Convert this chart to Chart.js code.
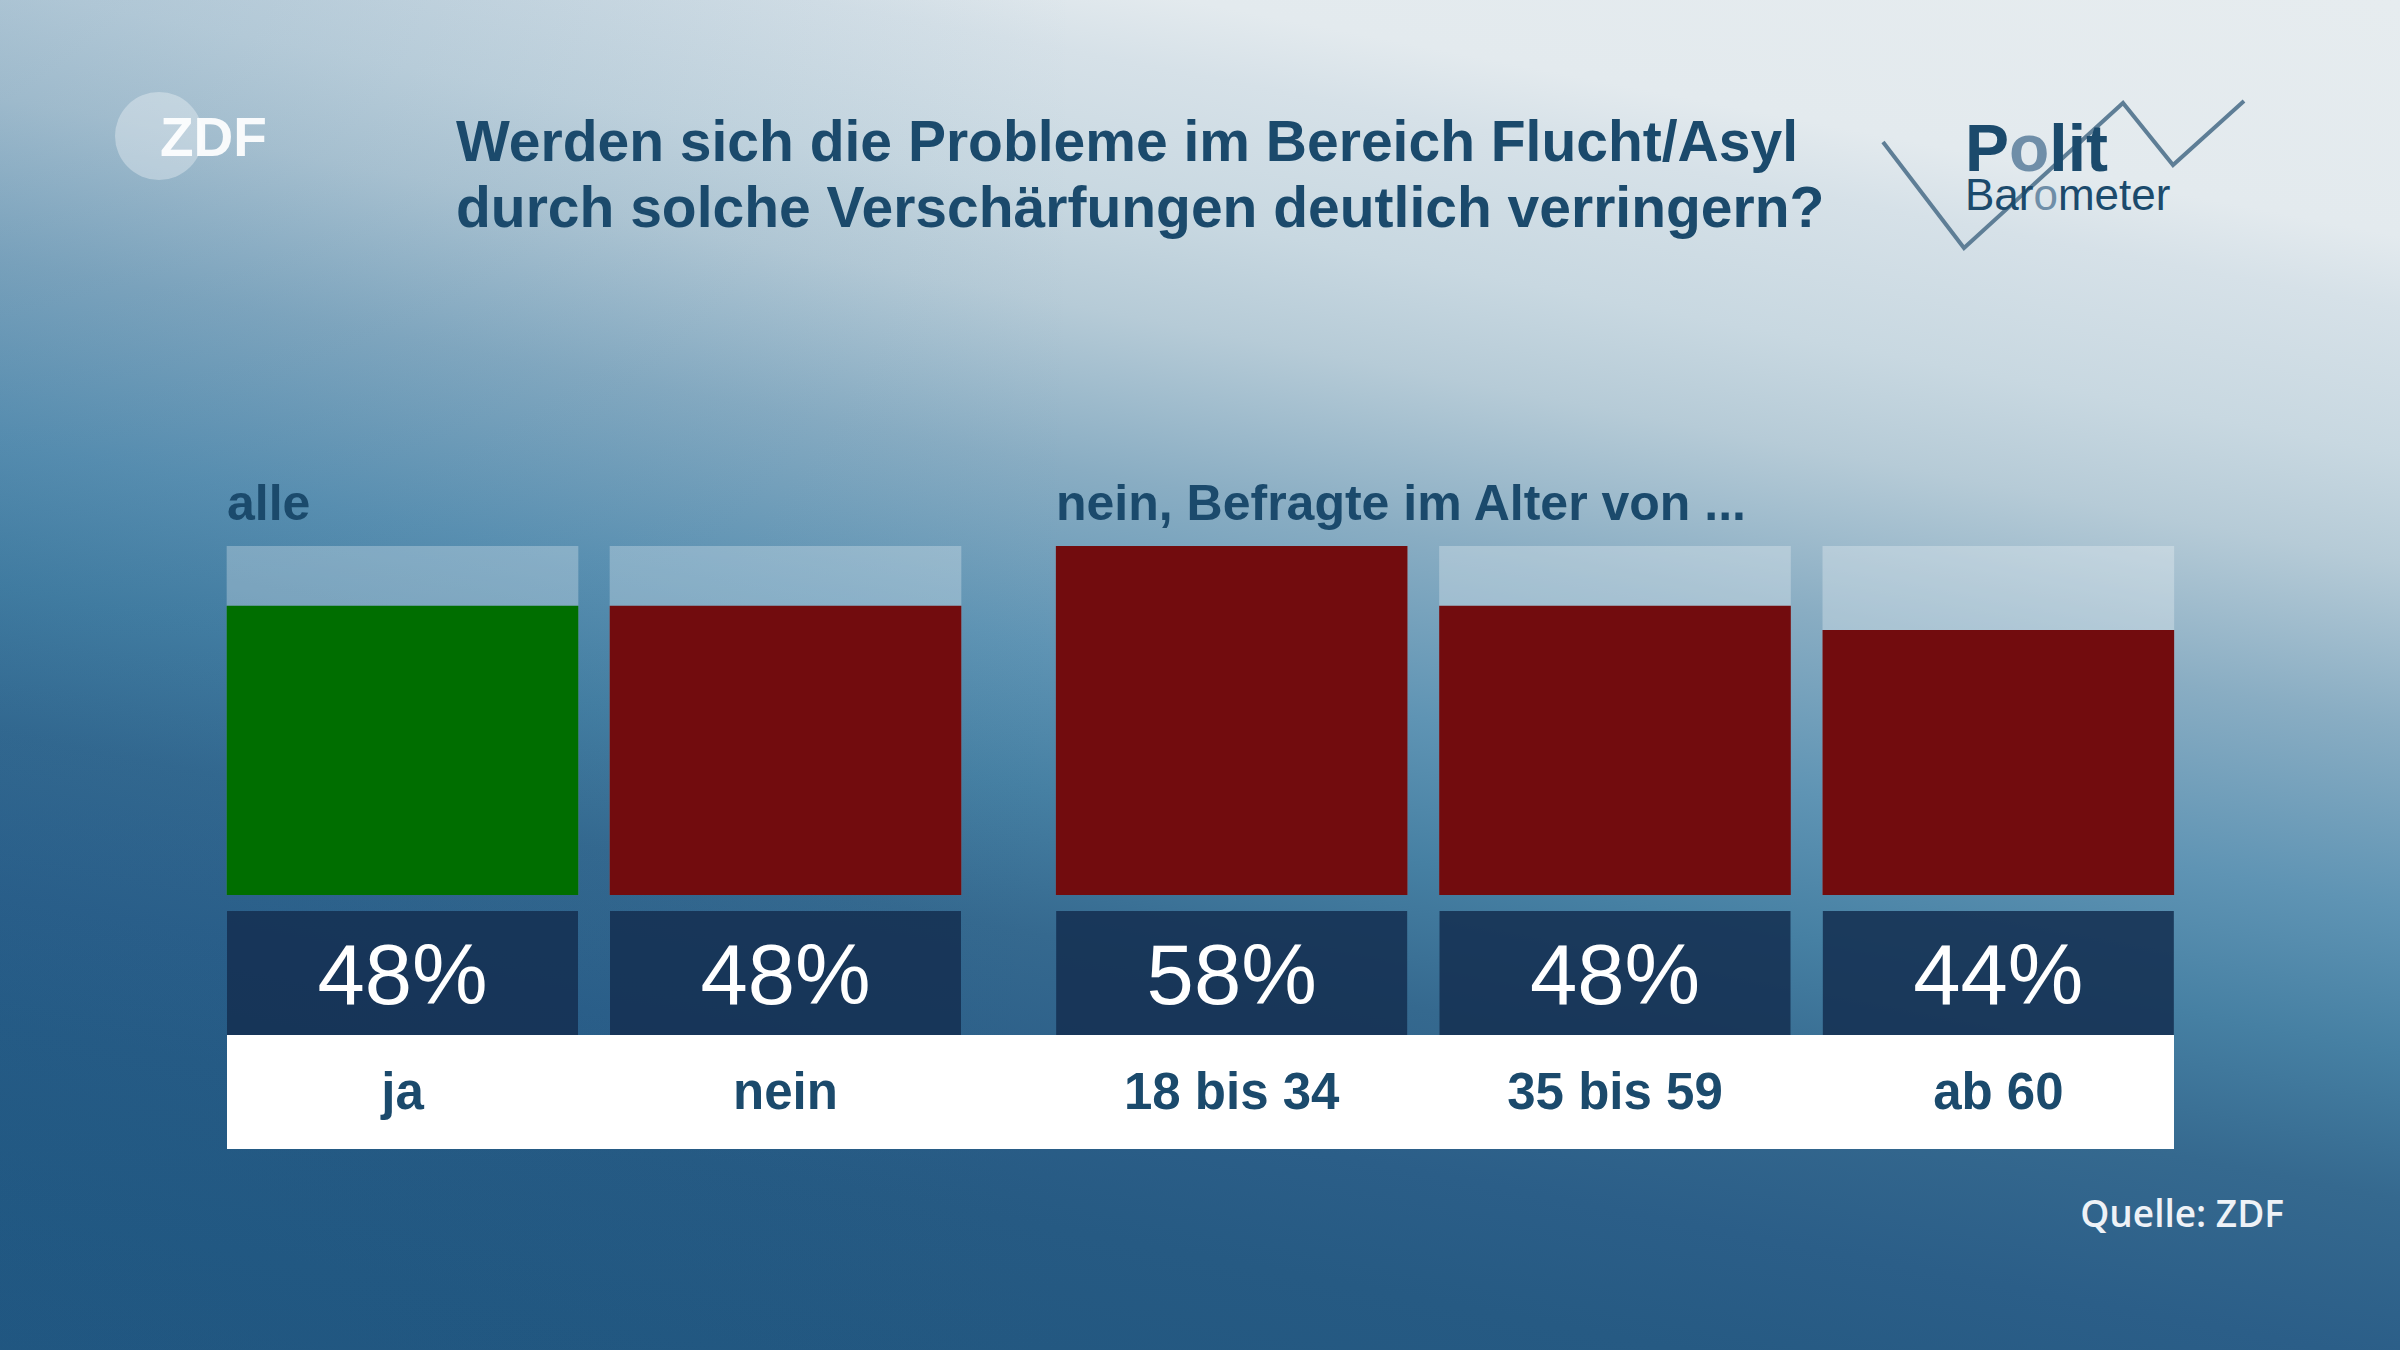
<!DOCTYPE html>
<html>
<head>
<meta charset="utf-8">
<script src="https://cdn.jsdelivr.net/npm/chart.js"></script>
<style>
  body { margin: 0; }
  #page {
    position: relative;
    width: 2400px;
    height: 1350px;
    overflow: hidden;
    font-family: "Liberation Sans", Arial, sans-serif;
    background:
      linear-gradient(90deg, rgba(30,95,145,0.16) 0%, rgba(30,95,145,0) 45%),
      linear-gradient(191deg, #e6ecef 0%, #e3eaee 13%, #d6e1e8 17%, #c8d8e1 25%, #b6cbd7 31%, #89adc3 40%,
        #5f94b4 50%, #4680a3 58%, #35698f 66%, #2b5e88 75%, #265a83 82%, #225780 92%, #21557e 100%);
  }
  #deco { position: absolute; left: 0; top: 0; }
  canvas { position: absolute; }
  #chartAll { left: 211px; top: 546px; }
  #chartAge { left: 1040px; top: 546px; }
</style>
</head>
<body>
<div id="page">
  <svg id="deco" width="2400" height="1350">
    <!-- ZDF logo -->
    <circle cx="159" cy="136" r="44" fill="rgba(255,255,255,0.33)"></circle>
    <text x="160" y="156" font-size="55" font-weight="bold" fill="rgba(255,255,255,0.92)" font-family="Liberation Sans">ZDF</text>

    <!-- title -->
    <text x="456" y="161" font-size="57" font-weight="bold" fill="#1b4a6c">Werden sich die Probleme im Bereich Flucht/Asyl</text>
    <text x="456" y="227" font-size="57" font-weight="bold" fill="#1b4a6c">durch solche Verschärfungen deutlich verringern?</text>

    <!-- Politbarometer logo -->
    <polyline points="1883,142 1964,248 2123,103 2173,165 2244,101" fill="none" stroke="#5e7e96" stroke-width="4"></polyline>
    <text x="1965" y="171" font-size="66" font-weight="bold" fill="#1b4a6c">P<tspan fill="#6f8ea8">o</tspan>lit</text>
    <text x="1965" y="210" font-size="44" fill="#1b4a6c">Bar<tspan fill="#6f8ea8">o</tspan>meter</text>

    <!-- group headings -->
    <text id="headAll" x="227" y="520" font-size="50" font-weight="bold" fill="#1b4a6c"></text>
    <text id="headAge" x="1056" y="520" font-size="50" font-weight="bold" fill="#1b4a6c"></text>

    <!-- white label band -->
    <rect x="227" y="1035" width="1947" height="114" fill="#ffffff"></rect>

    <text x="2284" y="1227" font-size="37" font-weight="600" fill="#eef2f7" text-anchor="end" font-family="Open Sans">Quelle: ZDF</text>
  </svg>
  <canvas id="chartAll" width="766" height="603"></canvas>
  <canvas id="chartAge" width="1150" height="603"></canvas>
</div>

<script>
// data
const groupTitles = ["alle", "nein, Befragte im Alter von ..."];
const labelsAll = ["ja", "nein"];
const valuesAll = [48, 48];
const colorsAll = ["#006e00", "#720c0e"];
const labelsAge = ["18 bis 34", "35 bis 59", "ab 60"];
const valuesAge = [58, 48, 44];
const colorsAge = ["#720c0e", "#720c0e", "#720c0e"];

document.getElementById("headAll").textContent = groupTitles[0];
document.getElementById("headAge").textContent = groupTitles[1];

// all bars share one scale, the tallest bar fills its track
const yMax = Math.max(...valuesAll, ...valuesAge);

// dark value boxes and category labels under each bar
const boxPlugin = {
  id: "boxes",
  afterDatasetsDraw: function (chart) {
    const ctx = chart.ctx;
    const area = chart.chartArea;
    const meta = chart.getDatasetMeta(0);
    const values = chart.data.datasets[0].data;
    meta.data.forEach(function (bar, i) {
      const left = bar.x - bar.width / 2;
      ctx.save();
      ctx.fillStyle = "rgba(20, 48, 82, 0.88)";
      ctx.fillRect(left, area.bottom + 16, bar.width, 124);
      ctx.fillStyle = "#ffffff";
      ctx.textAlign = "center";
      ctx.textBaseline = "alphabetic";
      ctx.font = "85px 'Liberation Sans'";
      ctx.fillText(values[i] + "%", bar.x, area.bottom + 109);
      ctx.fillStyle = "#1b4a6c";
      ctx.font = "bold 51px 'Liberation Sans'";
      ctx.fillText(chart.data.labels[i], bar.x, area.bottom + 214);
      ctx.restore();
    });
  }
};

function makeChart(id, labels, values, colors) {
  const config = {
    type: "bar",
    data: {
      labels: labels,
      datasets: [
        {
          data: values,
          backgroundColor: colors,
          barThickness: 351,
          grouped: false,
          order: 1,
        },
        {
          // light track behind each bar
          data: labels.map(function () { return yMax; }),
          backgroundColor: "rgba(255, 255, 255, 0.28)",
          barThickness: 351,
          grouped: false,
          order: 2,
        }
      ]
    },
    options: {
      responsive: false,
      animation: false,
      events: [],
      layout: { padding: { top: 0, bottom: 254, left: 0, right: 0 } },
      plugins: {
        legend: { display: false },
        tooltip: { enabled: false },
        title: { display: false },
      },
      scales: {
        x: { display: false },
        y: { display: false, min: 0, max: yMax },
      },
    },
    plugins: [boxPlugin],
  };
  return new Chart(id, config);
}

makeChart("chartAll", labelsAll, valuesAll, colorsAll);
makeChart("chartAge", labelsAge, valuesAge, colorsAge);
</script>
</body>
</html>
